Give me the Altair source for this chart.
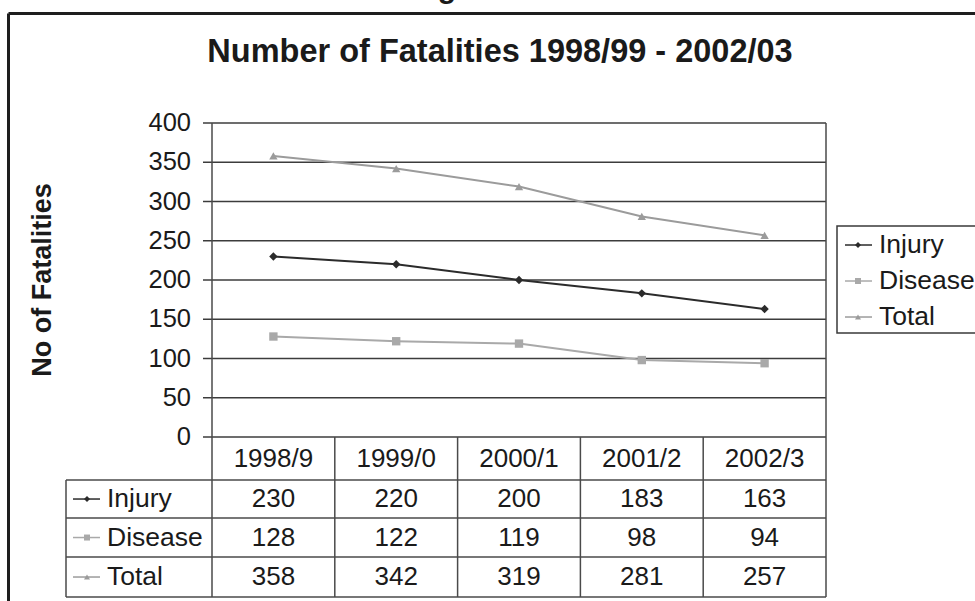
import altair as alt
import pandas as pd

# ---------------- data ----------------
categories = ["1998/9", "1999/0", "2000/1", "2001/2", "2002/3"]
series_names = ["Injury", "Disease", "Total"]
injury = [230, 220, 200, 183, 163]
disease = [128, 122, 119, 98, 94]
total = [358, 342, 319, 281, 257]
y_ticks = [0, 50, 100, 150, 200, 250, 300, 350, 400]
title_text = "Number of Fatalities 1998/99 - 2002/03"
y_title = "No of Fatalities"

series_values = {"Injury": injury, "Disease": disease, "Total": total}

# ---------------- styles / layout ----------------
colors = ["#2b2b2b", "#a9a9a9", "#9b9b9b"]
shapes = ["diamond", "square", "triangle-up"]
FONT = "Liberation Sans"
TXT = "#1a1a1a"
N = len(categories)
COL_PX = 122.8                # pixel width of one category column
PX_V = 0.785                  # pixels per y unit
LABEL_W = 146 / COL_PX        # width of the table's label column (column units)
X_DOMAIN = [-LABEL_W, N]
Y_DOMAIN = [-203.8, 400]
ROW_EDGES = [0, -54.8, -103.2, -152.9, -203.8]   # header, Injury, Disease, Total rows


def ux(px):
    return (px - 212) / COL_PX


def vy(py):
    return (437 - py) / PX_V


def X(field="u"):
    return alt.X(f"{field}:Q", scale=alt.Scale(domain=X_DOMAIN, nice=False, zero=False), axis=None)


def Y(field="v"):
    return alt.Y(f"{field}:Q", scale=alt.Scale(domain=Y_DOMAIN, nice=False, zero=False), axis=None)


color_enc = alt.Color("series:N", scale=alt.Scale(domain=series_names, range=colors), legend=None)
shape_enc = alt.Shape("series:N", scale=alt.Scale(domain=series_names, range=shapes), legend=None)

# ---------------- tables ----------------
long_rows = []
for s in series_names:
    for i, (c, val) in enumerate(zip(categories, series_values[s])):
        long_rows.append({"series": s, "category": c, "u": i + 0.5, "v": val})
df = pd.DataFrame(long_rows)

row_centers = [(ROW_EDGES[k] + ROW_EDGES[k + 1]) / 2 for k in range(len(ROW_EDGES) - 1)]

df_header = pd.DataFrame({"label": categories, "u": [i + 0.5 for i in range(N)], "v": row_centers[0]})
cell_rows = []
for r, s in enumerate(series_names):
    for i, val in enumerate(series_values[s]):
        cell_rows.append({"label": str(val), "u": i + 0.5, "v": row_centers[r + 1]})
df_cells = pd.DataFrame(cell_rows)

# grid lines (with outward tick)
df_grid = pd.DataFrame({"u": ux(203), "u2": N, "v": y_ticks})
df_ticklab = pd.DataFrame({"u": 0, "v": y_ticks, "label": [str(t) for t in y_ticks]})

# vertical table / plot lines
vl = []
for i in range(N + 1):
    vl.append({"u": i, "v": ROW_EDGES[-1], "v2": 400 if i in (0, N) else 0})
vl.append({"u": -LABEL_W, "v": ROW_EDGES[-1], "v2": ROW_EDGES[1]})
df_vlines = pd.DataFrame(vl)
df_hlines = pd.DataFrame({"u": -LABEL_W, "u2": N, "v": ROW_EDGES[1:]})

# outer frame
df_frame = pd.DataFrame([
    {"u": ux(8.5), "u2": ux(8.5), "v": vy(640), "v2": vy(13.5)},
    {"u": ux(8.5), "u2": ux(1000), "v": vy(13.5), "v2": vy(13.5)},
])

# symbols for table row labels and legend
sym = []
leg_y = [245, 281, 317]
for r, s in enumerate(series_names):
    sym.append({"series": s, "u1": ux(73), "u2": ux(100), "um": ux(87), "v": row_centers[r + 1],
                "tu": ux(107), "label": s})
    sym.append({"series": s, "u1": ux(845), "u2": ux(872), "um": ux(858), "v": vy(leg_y[r]),
                "tu": ux(879), "label": s})
df_sym = pd.DataFrame(sym)

df_legbox = pd.DataFrame([{"u": ux(837), "u2": ux(1000), "v": vy(226), "v2": vy(333)}])
df_title = pd.DataFrame([{"u": ux(500), "v": vy(52), "label": title_text}])
df_ytitle = pd.DataFrame([{"u": ux(43), "v": vy(280), "label": y_title}])
df_g = pd.DataFrame([{"u": ux(447), "v": vy(-2), "label": "g"}])

# ---------------- layers ----------------
frame = alt.Chart(df_frame).mark_rule(stroke="#1e1e1e", strokeWidth=3).encode(
    x=X(), x2="u2:Q", y=Y(), y2="v2:Q")
legbox = alt.Chart(df_legbox).mark_rect(fill="white", stroke="#3a3a3a", strokeWidth=1.5).encode(
    x=X(), x2="u2:Q", y=Y(), y2="v2:Q")
grid = alt.Chart(df_grid).mark_rule(stroke="#3c3c3c", strokeWidth=1.5).encode(
    x=X(), x2="u2:Q", y=Y())
vlines = alt.Chart(df_vlines).mark_rule(stroke="#4a4a4a", strokeWidth=1.5).encode(
    x=X(), y=Y(), y2="v2:Q")
hlines = alt.Chart(df_hlines).mark_rule(stroke="#4a4a4a", strokeWidth=1.5).encode(
    x=X(), x2="u2:Q", y=Y())
ticklab = alt.Chart(df_ticklab).mark_text(
    align="right", baseline="middle", dx=-21, font=FONT, fontSize=25.5, color=TXT).encode(
    x=X(), y=Y(), text="label:N")
ytitle = alt.Chart(df_ytitle).mark_text(
    align="center", baseline="middle", angle=270, font=FONT, fontSize=27, fontWeight="bold",
    color=TXT).encode(x=X(), y=Y(), text="label:N")
title = alt.Chart(df_title).mark_text(
    align="center", baseline="middle", font=FONT, fontSize=32.5, fontWeight="bold",
    color=TXT).encode(x=X(), y=Y(), text="label:N")
gfrag = alt.Chart(df_g).mark_text(
    align="center", baseline="alphabetic", font=FONT, fontSize=30, fontWeight="bold",
    color=TXT).encode(x=X(), y=Y(), text="label:N")

lines = alt.Chart(df).mark_line(strokeWidth=2).encode(
    x=X(), y=Y(), color=color_enc, detail="series:N", order="u:Q")
points = alt.Chart(df).mark_point(filled=True, size=70, opacity=1).encode(
    x=X(), y=Y(), color=color_enc, shape=shape_enc)

header = alt.Chart(df_header).mark_text(
    align="center", baseline="middle", font=FONT, fontSize=26, color=TXT).encode(
    x=X(), y=Y(), text="label:N")
cells = alt.Chart(df_cells).mark_text(
    align="center", baseline="middle", font=FONT, fontSize=26, color=TXT).encode(
    x=X(), y=Y(), text="label:N")

sym_line = alt.Chart(df_sym).mark_rule(strokeWidth=1.5).encode(
    x=X("u1"), x2="u2:Q", y=Y(), color=color_enc)
sym_pt = alt.Chart(df_sym).mark_point(filled=True, size=36, opacity=1).encode(
    x=X("um"), y=Y(), color=color_enc, shape=shape_enc)
sym_txt = alt.Chart(df_sym).mark_text(
    align="left", baseline="middle", font=FONT, fontSize=26.5, color=TXT).encode(
    x=X("tu"), y=Y(), text="label:N")

chart = alt.layer(
    frame, legbox, grid, vlines, hlines, lines, points, ticklab, ytitle, title, gfrag,
    header, cells, sym_line, sym_pt, sym_txt
).properties(
    width=760, height=474,
    autosize=alt.AutoSizeParams(type="none"),
    padding={"left": 66, "top": 123, "right": 149, "bottom": 4},
    background="white",
).configure_view(strokeWidth=0)

chart.save("out.html", embed_options={"renderer": "svg", "actions": False})
